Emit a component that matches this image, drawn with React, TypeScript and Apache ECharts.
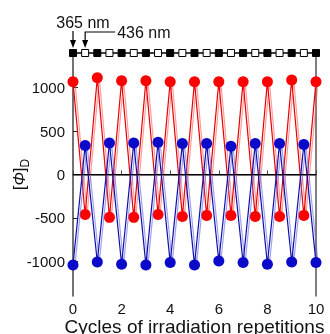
import React, { useEffect, useRef } from "react";
import * as echarts from "echarts";

const cycles = [0, 0.5, 1, 1.5, 2, 2.5, 3, 3.5, 4, 4.5, 5, 5.5, 6, 6.5, 7, 7.5, 8, 8.5, 9, 9.5, 10];
const redValues = [1070, -460, 1115, -494, 1080, -494, 1080, -460, 1070, -483, 1070, -471, 1070, -471, 1070, -483, 1070, -483, 1090, -471, 1070];
const blueValues = [-1042, 333, -1008, 364, -1034, 364, -1042, 372, -1015, 356, -1042, 356, -996, 326, -1015, 356, -1034, 356, -1008, 345, -1015];
const markerLevel = 1400;
const yTicks = [-1000, -500, 0, 500, 1000];
const xTicks = [0, 2, 4, 6, 8, 10];
const label365 = "365 nm";
const label436 = "436 nm";

const FONT = "Liberation Sans, Arial, sans-serif";

export default function App() {
  const ref = useRef<HTMLDivElement>(null);
  useEffect(() => {
    const chart = echarts.init(ref.current!, null, { renderer: "svg" });
    const squares = cycles.map((x, i) => ({
      value: [x, markerLevel],
      itemStyle:
        i % 2 === 0
          ? { color: "#000", borderColor: "#000", borderWidth: 1 }
          : { color: "#fff", borderColor: "#000", borderWidth: 1 },
    }));
    chart.setOption({
      animation: false,
      grid: { left: 73, right: 14, top: 53, bottom: 38, containLabel: false, outerBoundsMode: "none" },
      xAxis: {
        type: "value",
        min: 0,
        max: 10,
        interval: 2,
        axisLine: { show: true, lineStyle: { color: "#444", width: 1.5 } },
        axisTick: { inside: true, length: 4, lineStyle: { color: "#444" }, customValues: xTicks },
        axisLabel: { fontSize: 15, color: "#111", fontFamily: FONT, margin: 5, customValues: xTicks, formatter: (v: number) => String(v) },
        splitLine: { show: false },
        name: "Cycles of irradiation repetitions",
        nameLocation: "middle",
        nameGap: 21,
        nameMoveOverlap: false,
        nameTextStyle: { fontSize: 19, color: "#111", fontFamily: FONT },
      },
      yAxis: [
        {
          type: "value",
          min: -1400,
          max: 1400,
          axisLine: { show: true, lineStyle: { color: "#444", width: 1.5 } },
          axisTick: { inside: true, length: 5, lineStyle: { color: "#222" }, customValues: yTicks },
          axisLabel: { fontSize: 15, color: "#111", fontFamily: FONT, margin: 8, customValues: yTicks, formatter: (v: number) => String(v) },
          splitLine: { show: false },
          name: "{b|[}{i|Φ}{b|]}{s|D}",
          nameLocation: "middle",
          nameGap: 44,
          nameMoveOverlap: false,
          nameRotate: 90,
          nameTextStyle: {
            rich: {
              b: { fontSize: 17, color: "#111", fontFamily: FONT, lineHeight: 20 },
              i: { fontSize: 16, color: "#111", fontFamily: FONT, fontStyle: "italic", lineHeight: 20 },
              s: { fontSize: 12, color: "#111", fontFamily: FONT, lineHeight: 12, padding: [12, 0, 0, 0] },
            },
          },
        },
        {
          type: "value",
          position: "right",
          min: -1400,
          max: 1400,
          axisLine: { show: true, lineStyle: { color: "#555", width: 1.5 } },
          axisTick: { show: false },
          axisLabel: { show: false },
          splitLine: { show: false },
        },
      ],
      series: [
        {
          type: "line",
          data: cycles.map((x, i) => [x, redValues[i]]),
          symbol: "circle",
          symbolSize: 11,
          itemStyle: { color: "#ff0000" },
          lineStyle: { color: "#e80000", width: 1.2, shadowColor: "rgba(255,90,90,0.6)", shadowOffsetX: 2, shadowOffsetY: 0, shadowBlur: 1 },
          z: 3,
          markLine: {
            silent: true,
            symbol: "none",
            label: { show: false },
            lineStyle: { color: "#000", width: 1.2, type: "solid" },
            data: [{ yAxis: 0 }],
          },
        },
        {
          type: "line",
          data: cycles.map((x, i) => [x, blueValues[i]]),
          symbol: "circle",
          symbolSize: 11,
          itemStyle: { color: "#0a0ac8" },
          lineStyle: { color: "#1010b0", width: 1.2, shadowColor: "rgba(100,100,225,0.6)", shadowOffsetX: 2, shadowOffsetY: 0, shadowBlur: 1 },
          z: 4,
        },
        {
          type: "line",
          data: squares,
          symbol: "rect",
          symbolSize: 7,
          lineStyle: { color: "#000", width: 1.5 },
          clip: false,
          z: 5,
        },
      ],
    });

    const p0 = chart.convertToPixel({ xAxisIndex: 0, yAxisIndex: 0 }, [cycles[0], markerLevel]);
    const p1 = chart.convertToPixel({ xAxisIndex: 0, yAxisIndex: 0 }, [cycles[1], markerLevel]);
    const tipY = p0[1] - 5;
    chart.setOption({
      graphic: [
        {
          type: "text",
          x: p0[0] + 10,
          y: tipY - 26,
          style: { text: label365, fontSize: 16, fill: "#111", fontFamily: FONT, align: "center", verticalAlign: "middle" },
        },
        { type: "line", shape: { x1: p0[0], y1: tipY - 17, x2: p0[0], y2: tipY - 6 }, style: { stroke: "#000", lineWidth: 1.2 } },
        { type: "polygon", shape: { points: [[p0[0] - 3, tipY - 8], [p0[0] + 3, tipY - 8], [p0[0], tipY]] }, style: { fill: "#000" } },
        { type: "polyline", shape: { points: [[p1[0] + 30, tipY - 16], [p1[0], tipY - 16], [p1[0], tipY - 6]] }, style: { stroke: "#000", lineWidth: 1.2, fill: null } },
        { type: "polygon", shape: { points: [[p1[0] - 3, tipY - 8], [p1[0] + 3, tipY - 8], [p1[0], tipY]] }, style: { fill: "#000" } },
        {
          type: "text",
          x: p1[0] + 32,
          y: tipY - 16,
          style: { text: label436, fontSize: 16, fill: "#111", fontFamily: FONT, align: "left", verticalAlign: "middle" },
        },
      ],
    });
    return () => chart.dispose();
  }, []);
  return <div ref={ref} style={{ position: "fixed", left: 0, top: 0, width: 330, height: 334 }} />;
}
